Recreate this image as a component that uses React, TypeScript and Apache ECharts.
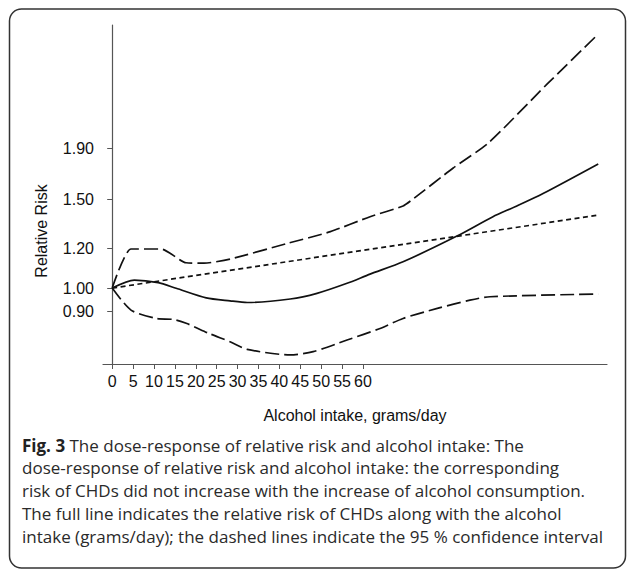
import React, { useEffect, useRef } from "react";
import * as echarts from "echarts";

// x: alcohol intake (grams/day), y: relative risk (log axis)
const estimate: [number, number][] = [
  [0, 1.0], [5.3, 1.037], [11.0, 1.025], [15.3, 0.999], [22.5, 0.956],
  [28.2, 0.943], [32.3, 0.936], [42.6, 0.951], [49.0, 0.976], [56.2, 1.022],
  [61.7, 1.066], [69.6, 1.128], [82.5, 1.269], [91.1, 1.387],
  [96.4, 1.452], [103.1, 1.543], [116.3, 1.767],
];
const upper95: [number, number][] = [
  [0, 1.0], [4.5, 1.196], [11.7, 1.196], [17.7, 1.123], [22.0, 1.121],
  [28.2, 1.142], [41.9, 1.227], [52.2, 1.295], [61.7, 1.387], [69.6, 1.457],
  [72.0, 1.504], [81.6, 1.734], [90.0, 1.944], [104.1, 2.549], [116.3, 3.204],
];
const lower95: [number, number][] = [
  [0, 1.0], [4.5, 0.904], [10.5, 0.87], [14.6, 0.866], [17.7, 0.851],
  [23.2, 0.812], [28.2, 0.782], [32.3, 0.755], [42.6, 0.736], [48.1, 0.747],
  [56.2, 0.788], [64.1, 0.831], [69.6, 0.87], [77.8, 0.911], [85.6, 0.946],
  [90.4, 0.961], [116.3, 0.973],
];
const linearTrend: [number, number][] = [[0, 1.0], [58, 1.182], [116.3, 1.397]];

const yTicks = [0.9, 1.0, 1.2, 1.5, 1.9];
const xTicks = [0, 5, 10, 15, 20, 25, 30, 35, 40, 45, 50, 55, 60];

const captionLines = [
  "{b|Fig. 3} The dose-response of relative risk and alcohol intake: The",
  "dose-response of relative risk and alcohol intake: the corresponding",
  "risk of CHDs did not increase with the increase of alcohol consumption.",
  "The full line indicates the relative risk of CHDs along with the alcohol",
  "intake (grams/day); the dashed lines indicate the 95 % confidence interval",
];

const AXIS_FONT = "Liberation Sans, Arial, sans-serif";
const CAP_FONT = "Open Sans, Noto Sans, sans-serif";

export default function App() {
  const ref = useRef<HTMLDivElement>(null);
  useEffect(() => {
    if (!ref.current) return;
    const chart = echarts.init(ref.current, undefined, { renderer: "svg" });
    const lineSeries = (data: [number, number][], type: any, smooth: number) => ({
      type: "line",
      data,
      showSymbol: false,
      smooth,
      lineStyle: { color: "#111", width: 1.7, type },
      silent: true,
    });
    chart.setOption({
      animation: false,
      backgroundColor: "#fff",
      grid: { left: 103, top: 25, width: 504, height: 339 },
      xAxis: {
        type: "value",
        min: -2.2,
        max: 118.4,
        name: "Alcohol intake, grams/day",
        nameLocation: "middle",
        nameGap: 43,
        nameTextStyle: { color: "#111", fontSize: 16, fontFamily: AXIS_FONT },
        axisLine: { lineStyle: { color: "#555", width: 1.2 } },
        axisTick: { show: true, length: 5, lineStyle: { color: "#555" }, customValues: xTicks },
        axisLabel: {
          customValues: xTicks,
          color: "#111",
          fontSize: 16,
          fontFamily: AXIS_FONT,
          margin: 9,
          hideOverlap: false,
        },
        splitLine: { show: false },
      },
      yAxis: {
        type: "log",
        min: 0.706,
        max: 3.34,
        axisLine: { show: true, lineStyle: { color: "#555", width: 1.2 } },
        axisTick: { show: true, length: 5, lineStyle: { color: "#555" }, customValues: yTicks },
        axisLabel: {
          customValues: yTicks,
          color: "#111",
          fontSize: 16,
          fontFamily: AXIS_FONT,
          margin: 9,
          formatter: (v: number) => Number(v).toFixed(2),
        },
        splitLine: { show: false },
        minorTick: { show: false },
      },
      series: [
        lineSeries(estimate, "solid", 0.25),
        lineSeries(upper95, [14, 5], 0.2),
        lineSeries(lower95, [14, 5], 0.25),
        lineSeries(linearTrend, [5, 3.5], 0),
      ],
      graphic: [
        {
          type: "rect",
          shape: { x: 9.5, y: 9, width: 616, height: 559, r: 12 },
          style: { fill: "none", stroke: "#333", lineWidth: 1.5 },
          silent: true,
        },
        {
          type: "text",
          x: 41,
          y: 231,
          rotation: Math.PI / 2,
          style: {
            text: "Relative Risk",
            fill: "#111",
            font: `16px ${AXIS_FONT}`,
            align: "center",
            verticalAlign: "middle",
          },
        },
        ...captionLines.map((t, i) => ({
          type: "text",
          x: 22,
          y: 445 + i * 22.8,
          style: {
            text: t,
            fill: "#2a2a2a",
            font: `17px ${CAP_FONT}`,
            verticalAlign: "middle",
            align: "left",
            rich: {
              b: { font: `bold 17px ${CAP_FONT}`, fill: "#222" },
            },
          },
        })),
      ],
    });
    return () => chart.dispose();
  }, []);
  return (
    <div
      ref={ref}
      style={{ position: "absolute", left: 0, top: 0, width: 627, height: 569, background: "#fff" }}
    />
  );
}
